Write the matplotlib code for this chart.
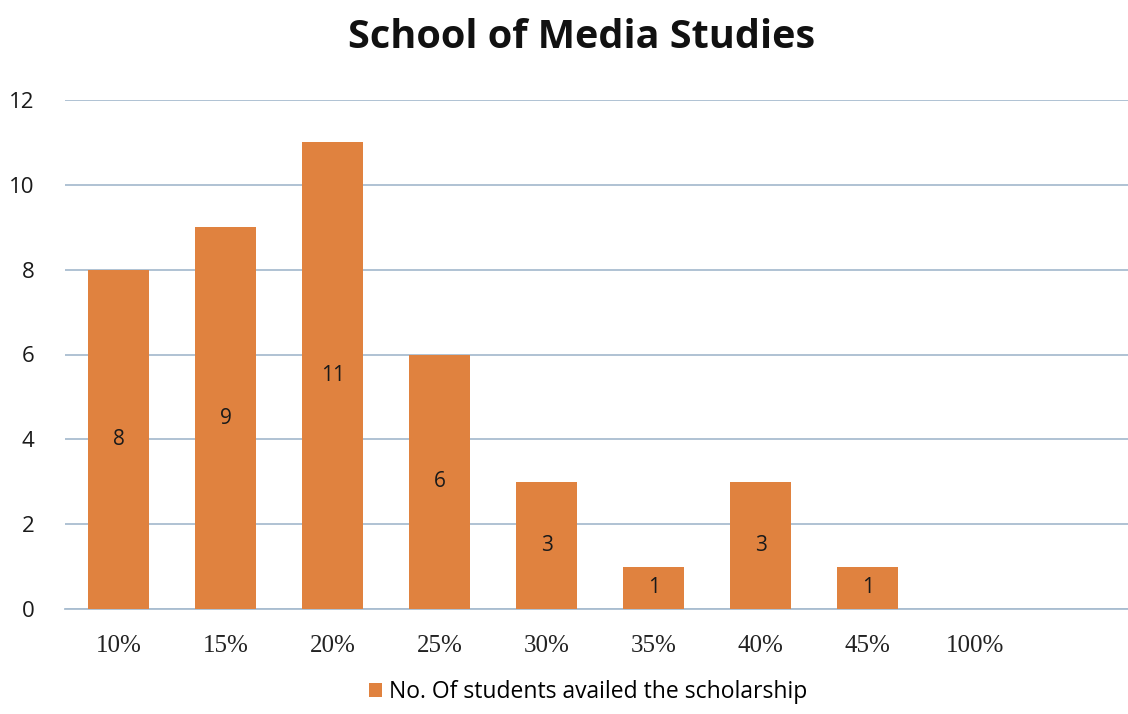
import matplotlib
matplotlib.use("Agg")
import matplotlib.pyplot as plt
from matplotlib.patches import Patch

categories = ["10%", "15%", "20%", "25%", "30%", "35%", "40%", "45%", "100%", ""]
values = [8, 9, 11, 6, 3, 1, 3, 1, 0, 0]
bar_labels = ["8", "9", "11", "6", "3", "1", "3", "1", "", ""]
yticks = [0, 2, 4, 6, 8, 10, 12]
series_name = "No. Of students availed the scholarship"
title = "School of Media Studies"

bar_color = "#e0823f"
grid_color = "#a9bdd0"
sans = ["Open Sans", "DejaVu Sans"]
serif = ["Liberation Serif", "DejaVu Serif"]

fig = plt.figure(figsize=(11.28, 7.14), dpi=100)
ax = fig.add_axes([65 / 1128, 1 - 609 / 714, 1 - 65 / 1128, (609 - 100) / 714])

x = list(range(len(categories)))
bars = ax.bar(x, values, width=0.57, color=bar_color, zorder=3)
for xi, v, lab in zip(x, values, bar_labels):
    if lab:
        ax.text(xi, v / 2, lab, ha="center", va="center", fontsize=15,
                family=sans, fontweight="medium", color="#1a1a1a", zorder=4)

ax.set_ylim(0, 12)
ax.set_xlim(-0.5, 9.43)
ax.set_yticks(yticks)
ax.set_yticklabels([str(t) for t in yticks], family=sans, fontsize=16,
                   fontweight="medium", color="#1a1a1a")
ax.set_xticks(x)
ax.set_xticklabels(categories, family=serif, fontsize=18, color="#222222")
ax.tick_params(axis="both", length=0)
ax.tick_params(axis="y", pad=22)
ax.tick_params(axis="x", pad=19)
ax.yaxis.grid(True, color=grid_color, linewidth=1.3, zorder=0)
for s in ["top", "right", "left"]:
    ax.spines[s].set_visible(False)
ax.spines["bottom"].set_color(grid_color)
ax.spines["bottom"].set_linewidth(1.3)

fig.text(582 / 1128, 1 - 38 / 714, title, ha="center", va="center",
         fontsize=28.5, fontweight="bold", family=sans, color="#111111")

handle = Patch(facecolor=bar_color, edgecolor="none")
fig.legend([handle], [series_name], loc="center", bbox_to_anchor=(588 / 1128, 1 - 692 / 714),
           frameon=False, prop={"family": sans, "size": 16.5, "weight": "medium"},
           handlelength=0.55, handleheight=0.55, handletextpad=0.3)

fig.savefig("out.png", dpi=100)
